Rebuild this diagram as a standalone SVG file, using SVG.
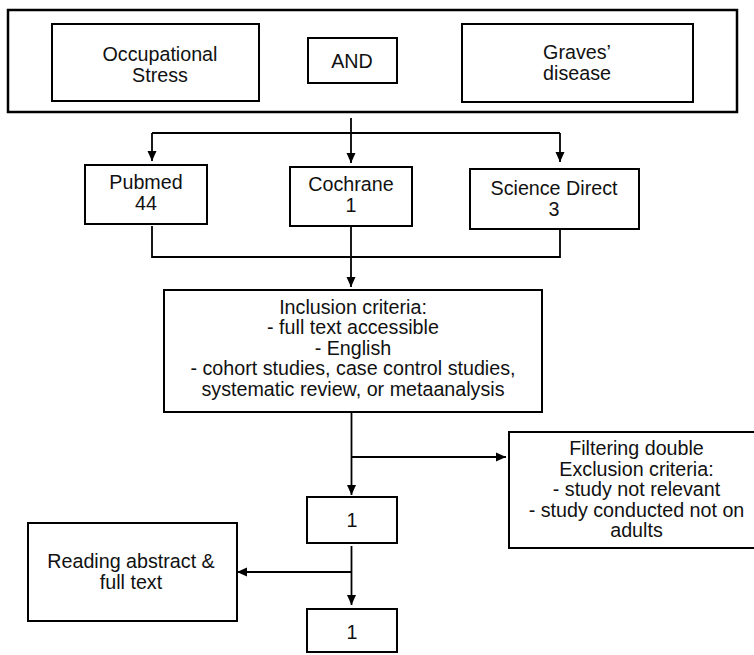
<svg xmlns="http://www.w3.org/2000/svg" width="754" height="655" viewBox="0 0 754 655">
<defs>
<marker id="ah" markerUnits="userSpaceOnUse" markerWidth="11" markerHeight="10" refX="10" refY="5" orient="auto">
<path d="M0,0.5 L10,5 L0,9.5 z" fill="#000"/>
</marker>
<style>
.box{fill:#fff;stroke:#000;stroke-width:2}
.outer{fill:#fff;stroke:#000;stroke-width:2.5}
.t{font-family:"Liberation Sans",Arial,Helvetica,sans-serif;font-size:19.7px;fill:#111;text-anchor:middle}
.c{fill:none;stroke:#000;stroke-width:1.8}
.a{fill:none;stroke:#000;stroke-width:1.8;marker-end:url(#ah)}
</style>
</defs>
<rect width="754" height="655" fill="#fff"/>
<g id="search">
<rect class="outer" x="8" y="10" width="729" height="102"/>
</g>
<g id="occupational">
<rect class="box" x="52" y="24" width="207" height="77"/>
<text class="t" x="160" y="61">Occupational</text>
<text class="t" x="160" y="82">Stress</text>
</g>
<g id="and">
<rect class="box" x="308" y="38" width="89" height="45"/>
<text class="t" x="352" y="68">AND</text>
</g>
<g id="graves">
<rect class="box" x="462" y="24" width="231" height="78"/>
<text class="t" x="577" y="59">Graves’</text>
<text class="t" x="577" y="80">disease</text>
</g>
<g id="connectors">
<path class="c" d="M351,118 V133"/>
<path class="c" d="M152,133 H560"/>
<path class="a" d="M152,133 V161"/>
<path class="a" d="M351,133 V163"/>
<path class="a" d="M560,133 V162"/>
<path class="c" d="M152,226 V257 H560 V229"/>
<path class="c" d="M351,226 V257"/>
<path class="a" d="M351,257 V287"/>
<path class="a" d="M351.5,412 V495"/>
<path class="a" d="M351.5,457 H506"/>
<path class="a" d="M351.5,546 V605"/>
<path class="a" d="M351.5,572 H237"/>
</g>
<g id="pubmed">
<rect class="box" x="85" y="165" width="122" height="59"/>
<text class="t" x="146" y="189">Pubmed</text>
<text class="t" x="146" y="210">44</text>
</g>
<g id="cochrane">
<rect class="box" x="290" y="167" width="122" height="59"/>
<text class="t" x="351" y="191">Cochrane</text>
<text class="t" x="351" y="212">1</text>
</g>
<g id="sciencedirect">
<rect class="box" x="470" y="169" width="169" height="60"/>
<text class="t" x="554" y="195">Science Direct</text>
<text class="t" x="554" y="216">3</text>
</g>
<g id="inclusion">
<rect class="box" x="164" y="290" width="378" height="122"/>
<text class="t" x="353" y="314">Inclusion criteria:</text>
<text class="t" x="353" y="334">- full text accessible</text>
<text class="t" x="353" y="354.5">- English</text>
<text class="t" x="353" y="375">- cohort studies, case control studies,</text>
<text class="t" x="353" y="395.5">systematic review, or metaanalysis</text>
</g>
<g id="exclusion">
<rect class="box" x="509" y="432" width="255" height="116"/>
<text class="t" x="636.5" y="455">Filtering double</text>
<text class="t" x="636.5" y="475.5">Exclusion criteria:</text>
<text class="t" x="636.5" y="496">- study not relevant</text>
<text class="t" x="636.5" y="516.5">- study conducted not on</text>
<text class="t" x="636.5" y="537">adults</text>
</g>
<g id="result1">
<rect class="box" x="307" y="497" width="90" height="46"/>
<text class="t" x="352" y="527">1</text>
</g>
<g id="reading">
<rect class="box" x="28" y="523" width="209" height="98"/>
<text class="t" x="131" y="568">Reading abstract &amp;</text>
<text class="t" x="131" y="588.5">full text</text>
</g>
<g id="result2">
<rect class="box" x="307" y="609" width="90" height="43"/>
<text class="t" x="352" y="639">1</text>
</g>
</svg>
